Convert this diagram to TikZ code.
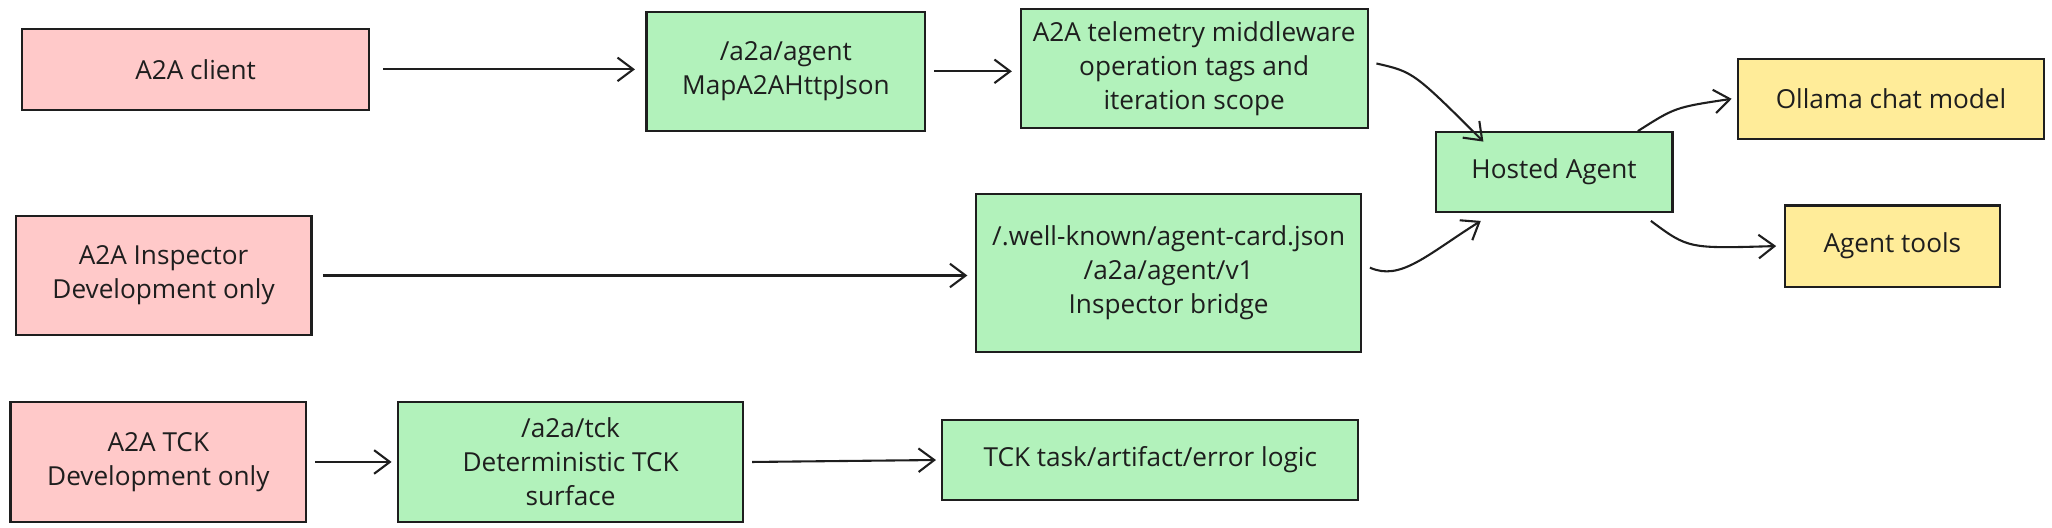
\documentclass[tikz,border=0pt]{standalone}
\usepackage{fontspec}
\setmainfont{Open Sans}
\usetikzlibrary{arrows.meta}
\definecolor{redbox}{HTML}{FFC9C9}
\definecolor{greenbox}{HTML}{B2F2BB}
\definecolor{yellowbox}{HTML}{FFEC99}
\definecolor{ink}{HTML}{1E1E1E}
\tikzset{
  box/.style={draw=ink, thick, align=center, inner sep=2pt, font=\fontsize{10}{13}\selectfont, text=ink},
  arr/.style={draw=ink, thick, -{Straight Barb[length=6pt,width=9pt]}}
}
\begin{document}
\begin{tikzpicture}[x=0.5pt, y=-0.5pt]
	\useasboundingbox (0,0) rectangle (1568,403);

	\node [box, fill=redbox, minimum width=132.5pt, minimum height=31pt] (client) at (149.5, 53) {A2A client};
	\node [box, fill=greenbox, minimum width=106.5pt, minimum height=45.5pt] (agent) at (600.5, 54.5) {/a2a/agent\\MapA2AHttpJson};
	\node [box, fill=greenbox, minimum width=132.5pt, minimum height=45.5pt] (telemetry) at (912.5, 52.5) {A2A telemetry middleware\\operation tags and\\iteration scope};
	\node [box, fill=greenbox, minimum width=90.5pt, minimum height=30.5pt] (hosted) at (1187.5, 131.5) {Hosted Agent};
	\node [box, fill=yellowbox, minimum width=117pt, minimum height=30.5pt] (ollama) at (1445, 75.5) {Ollama chat model};
	\node [box, fill=yellowbox, minimum width=82pt, minimum height=31pt] (tools) at (1446, 188) {Agent tools};

	\node [box, fill=redbox, minimum width=113pt, minimum height=45.5pt] (inspector) at (125, 210.5) {A2A Inspector\\Development only};
	\node [box, fill=greenbox, minimum width=147pt, minimum height=60.5pt] (wellknown) at (893, 208.5) {/.well-known/agent-card.json\\/a2a/agent/v1\\Inspector bridge};

	\node [box, fill=redbox, minimum width=113pt, minimum height=46pt] (tck) at (121, 353) {A2A TCK\\Development only};
	\node [box, fill=greenbox, minimum width=132pt, minimum height=46pt] (tcksurface) at (436, 353) {/a2a/tck\\Deterministic TCK\\surface};
	\node [box, fill=greenbox, minimum width=159pt, minimum height=30.5pt] (tcklogic) at (879, 351.5) {TCK task/artifact/error logic};

	\draw [arr] ([xshift=5pt]client.east) -- ([xshift=-4pt]agent.west |- client.east);
	\draw [arr] ([xshift=3pt]agent.east) -- ([xshift=-3pt]telemetry.west |- agent.east);
	\draw [arr] ([xshift=3pt,yshift=2pt]telemetry.east) .. controls (1080,55) .. ([xshift=-27pt,yshift=-4pt]hosted.north);
	\draw [arr] ([xshift=3pt,yshift=2pt]wellknown.east) .. controls (1070,215) and (1090,195) .. ([xshift=-28pt,yshift=-3pt]hosted.south);
	\draw [arr] ([xshift=32pt]hosted.north) .. controls (1280,82) .. ([xshift=-2pt]ollama.west);
	\draw [arr] ([xshift=37pt,yshift=-3pt]hosted.south) .. controls (1290,190) .. ([xshift=-3pt]tools.west);
	\draw [arr] ([xshift=4pt]inspector.east) -- ([xshift=-3pt]wellknown.west |- inspector.east);
	\draw [arr] ([xshift=3pt]tck.east) -- ([xshift=-2pt]tcksurface.west |- tck.east);
	\draw [arr] ([xshift=3pt]tcksurface.east) -- ([xshift=-2pt]tcklogic.west);
\end{tikzpicture}
\end{document}
